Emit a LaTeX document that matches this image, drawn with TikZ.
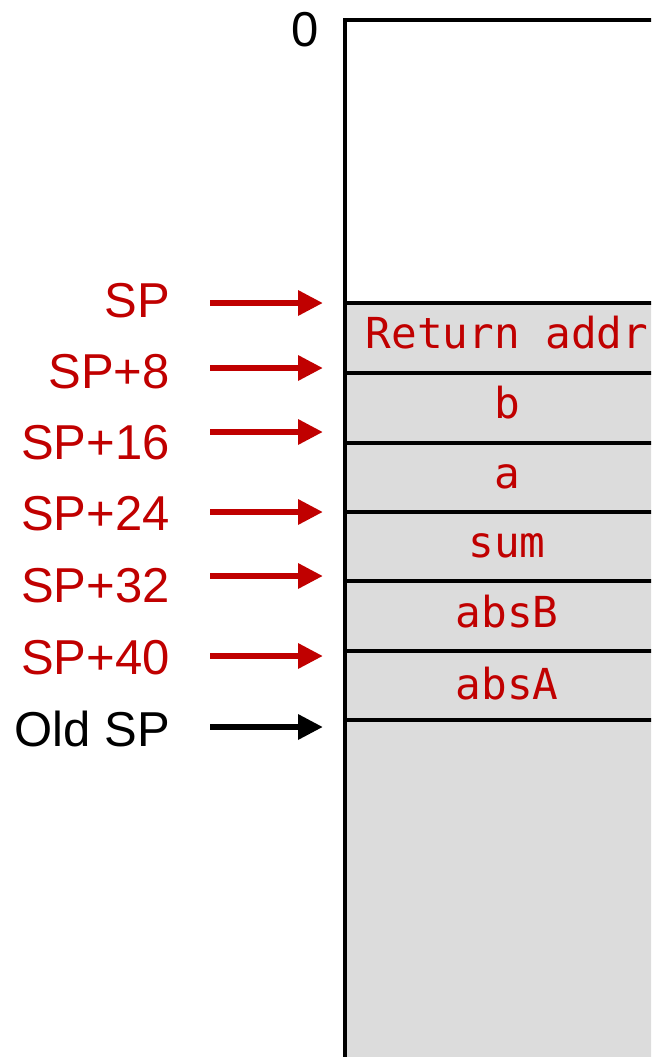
\documentclass[tikz,border=0pt]{standalone}
\usepackage{fontspec}
\setmainfont{Liberation Sans}
\newfontfamily\monof{DejaVu Sans Mono}
\usetikzlibrary{arrows.meta}
\definecolor{spred}{HTML}{C00000}
\definecolor{cellgray}{HTML}{DCDCDC}
\tikzset{
  lbl/.style={anchor=base east, inner sep=0pt, font=\fontsize{49}{52}\selectfont},
  cell/.style={anchor=base, inner sep=0pt, text=spred, font=\monof\fontsize{42.7}{46}\selectfont},
  ptr/.style={line width=6.5pt, -{Triangle[length=25pt,width=24pt]}},
  frame/.style={line width=3.5pt, line cap=rect},
}
\begin{document}
\begin{tikzpicture}[x=1pt,y=-1pt]
\useasboundingbox (0,0) rectangle (651,1057);
\clip (0,0) rectangle (651,1057);
% stack box
\fill[cellgray] (345,303) rectangle (720,1080);
\draw[frame] (345,1080) -- (345,20) -- (720,20);
\foreach \yy in {303,373,443,512,581,651,720}
  \draw[line width=3.5pt] (345,\yy) -- (720,\yy);
% top label
\node[anchor=base, inner sep=0pt, font=\fontsize{49}{52}\selectfont] (zero) at (305,47) {0};
% cell texts
\node[cell] (ret) at (507,348) {Return addr};
\node[cell] (cb) at (507,418) {b};
\node[cell] (ca) at (507,488) {a};
\node[cell] (csum) at (507,557) {sum};
\node[cell] (cabsB) at (507,627) {absB};
\node[cell] (cabsA) at (507,699) {absA};
% pointer labels
\node[lbl, text=spred] (sp0) at (170,317) {SP};
\node[lbl, text=spred] (sp8) at (170,388) {SP+8};
\node[lbl, text=spred] (sp16) at (170,459) {SP+16};
\node[lbl, text=spred] (sp24) at (170,530) {SP+24};
\node[lbl, text=spred] (sp32) at (170,602) {SP+32};
\node[lbl, text=spred] (sp40) at (170,674) {SP+40};
\node[lbl] (old) at (170,746) {Old SP};
% arrow endpoints
\coordinate (a0s) at (210,303); \coordinate (a0e) at (323,303);
\coordinate (a1s) at (210,368); \coordinate (a1e) at (323,368);
\coordinate (a2s) at (210,432); \coordinate (a2e) at (323,432);
\coordinate (a3s) at (210,512); \coordinate (a3e) at (323,512);
\coordinate (a4s) at (210,576); \coordinate (a4e) at (323,576);
\coordinate (a5s) at (210,656); \coordinate (a5e) at (323,656);
\coordinate (a6s) at (210,727); \coordinate (a6e) at (323,727);
\draw[ptr, spred] (a0s) -- (a0e);
\draw[ptr, spred] (a1s) -- (a1e);
\draw[ptr, spred] (a2s) -- (a2e);
\draw[ptr, spred] (a3s) -- (a3e);
\draw[ptr, spred] (a4s) -- (a4e);
\draw[ptr, spred] (a5s) -- (a5e);
\draw[ptr, black] (a6s) -- (a6e);
\end{tikzpicture}
\end{document}
